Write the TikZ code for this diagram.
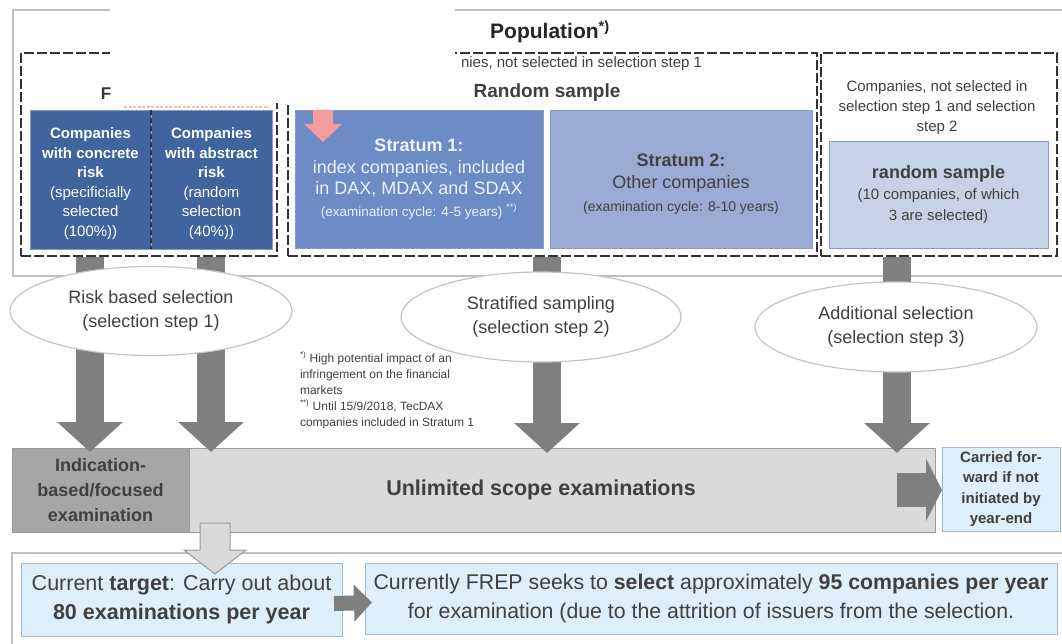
\documentclass[tikz,border=0pt]{standalone}
\usepackage{fontspec}
\setmainfont{Liberation Sans}
\usetikzlibrary{arrows.meta,calc,shapes.geometric}
\definecolor{txt}{HTML}{404040}
\definecolor{dashc}{HTML}{333333}
\definecolor{framec}{HTML}{BFBFBF}
\definecolor{darkblue}{HTML}{40649D}
\definecolor{midblue}{HTML}{6D8BC5}
\definecolor{lblue}{HTML}{9AACD3}
\definecolor{llblue}{HTML}{C6D2E8}
\definecolor{bborder}{HTML}{8A9CBE}
\definecolor{arrgray}{HTML}{7F7F7F}
\definecolor{indgray}{HTML}{A6A6A6}
\definecolor{unlgray}{HTML}{DADADA}
\definecolor{boxgray}{HTML}{9A9A9A}
\definecolor{skyfill}{HTML}{DCEFFB}
\definecolor{skyborder}{HTML}{A3B6CA}
\definecolor{ellborder}{HTML}{C4C4C4}
\definecolor{pinkc}{HTML}{F59C9C}
\definecolor{s1text}{HTML}{EEF2FA}
\newcommand\fsz[2]{\fontsize{#1}{#2}\selectfont}
\begin{document}
\begin{tikzpicture}[x=1pt,y=-1pt,
  every node/.style={inner sep=0pt, outer sep=0pt, text=txt},
  boxnw/.style={rectangle, anchor=north west},
  dashbox/.style={boxnw, draw=dashc, line width=1.6pt, dash pattern=on 10pt off 3pt},
  bluebox/.style={boxnw, draw=bborder, line width=0.8pt, align=center},
  skybox/.style={boxnw, fill=skyfill, draw=skyborder, line width=1pt, align=center},
  ell/.style={ellipse, draw=ellborder, fill=white, line width=1.2pt, align=center, font=\fsz{18}{24}},
  darr/.style={draw=arrgray, line width=28pt, -{Triangle[width=64pt,length=30pt]}},
  lbl/.style={align=center}
]
\useasboundingbox[fill=white] (0,0) rectangle (1062,644);

% population frame
\draw[framec, line width=2pt] (1062,10) -- (13,10) -- (13,276) -- (1062,276);
\node[lbl, font=\bfseries\fsz{21}{25}, text=black!85] (pop) at (550,32) {Population\textsuperscript{*)}};

% dashed group boxes
\node[dashbox, minimum width=256pt, minimum height=203pt] (riskd) at (21,53) {};
\node[dashbox, minimum width=529pt, minimum height=203pt] (randd) at (288,53) {};
\node[dashbox, minimum width=236pt, minimum height=203pt] (addd) at (821,53) {};

\node[lbl, font=\bfseries\fsz{19}{23}] (randtitle) at (547,93) {Random sample};
\node[lbl, font=\fsz{15}{20}, align=center] (addtext) at (937,108) {Companies, not selected in\\selection step 1 and selection\\step 2};

% blue boxes
\node[bluebox, fill=darkblue, minimum width=121pt, minimum height=139pt] (conc) at (30,110) {};
\node[lbl, text=white, font=\fsz{15}{19.5}] (conctext) at ($(conc.center)+(0,4)$)
  {\textbf{Companies}\\\textbf{with concrete}\\\textbf{risk}\\(specificially\\selected\\(100\%))};
\node[bluebox, fill=darkblue, minimum width=121pt, minimum height=139pt] (abst) at (151,110) {};
\node[lbl, text=white, font=\fsz{15}{19.5}] (absttext) at ($(abst.center)+(0,4)$)
  {\textbf{Companies}\\\textbf{with abstract}\\\textbf{risk}\\(random\\selection\\(40\%))};
\draw[dashc, line width=1.2pt, dash pattern=on 5pt off 3pt] (conc.north east) -- (conc.south east);

\node[bluebox, fill=midblue, minimum width=248pt, minimum height=138pt, text=s1text, font=\fsz{18}{21.5}] (s1) at (295,110)
  {\textbf{Stratum 1:}\\index companies, included\\in DAX, MDAX and SDAX\\{\fsz{13.5}{21.5}(examination cycle: 4-5 years) \textsuperscript{**)}}};
\node[bluebox, fill=lblue, minimum width=262pt, minimum height=138pt] (s2) at (550,110) {};
\node[lbl, font=\fsz{18}{22.5}] (s2text) at ($(s2.center)+(0,5)$)
  {\textbf{Stratum 2:}\\Other companies\\{\fsz{14}{22.5}(examination cycle: 8-10 years)}};
\node[bluebox, fill=llblue, minimum width=219pt, minimum height=107pt, font=\fsz{15}{21}] (rs) at (829,141)
  {{\fsz{18}{21}\textbf{random sample}}\\(10 companies, of which\\3 are selected)};

% pink remnants
\fill[pinkc] (313,110) -- (333,110) -- (333,124) -- (342,124) -- (323,142) -- (304,124) -- (313,124) -- cycle;

% bottom boxes
\node[boxnw, fill=indgray, draw=boxgray, line width=1pt, minimum width=177pt, minimum height=84pt, align=center, font=\bfseries\fsz{18}{25}] (ind) at (12,448)
  {Indication-\\based/focused\\examination};
\node[boxnw, fill=unlgray, draw=boxgray, line width=1pt, minimum width=746pt, minimum height=84pt, font=\bfseries\fsz{21.5}{26}] (unl) at (189,448)
  {\hspace*{-42pt}Unlimited scope examinations};
\node[skybox, minimum width=118pt, minimum height=84pt, font=\bfseries\fsz{15}{20.5}] (carr) at (942,447)
  {Carried for-\\ward if not\\initiated by\\year-end};

\draw[framec, line width=2pt] (1062,553) -- (12,553) -- (12,644);
\node[skybox, minimum width=321pt, minimum height=73pt, font=\fsz{21.5}{29}] (target) at (21,563)
  {Current \textbf{target}: Carry out about\\\textbf{80 examinations per year}};
\node[skybox, minimum width=692pt, minimum height=71pt, font=\fsz{21.3}{29}] (frep) at (365,563)
  {Currently FREP seeks to \textbf{select} approximately \textbf{95 companies per year}\\for examination (due to the attrition of issuers from the selection.};

% footnotes
\node[anchor=north west, align=left, font=\fsz{12}{16}] (foot) at (300,352)
  {\textsuperscript{*)} High potential impact of an\\infringement on the financial\\markets\\\textsuperscript{**)} Until 15/9/2018, TecDAX\\companies included in Stratum 1};

% dark block arrows
\coordinate (a1) at (90,257);
\coordinate (a2) at (211,257);
\coordinate (a3) at (547,257);
\coordinate (a4) at (897,257);
\draw[darr] (a1) -- ($(a1 |- ind.north)+(0,4)$);
\draw[darr] (a2) -- ($(a2 |- unl.north)+(0,4)$);
\draw[darr] (a3) -- ($(a3 |- unl.north)+(0,5)$);
\draw[darr] (a4) -- ($(a4 |- unl.north)+(0,5)$);
\coordinate (a5) at (897,490);
\draw[draw=arrgray, line width=34pt, -{Triangle[width=62pt,length=16pt]}] (a5) -- (a5 -| carr.west);
\draw[draw=arrgray, line width=15pt, -{Triangle[width=36pt,length=18pt]}] ($(target.east)+(-8,4)$) -- ($(frep.west)+(7,4)$);

% light hollow arrow
\coordinate (la) at (215,523);
\filldraw[fill=unlgray, draw=boxgray, line width=1pt] ($(la)+(-15,0)$) -- ($(la)+(15,0)$) -- ($(la)+(15,27)$) -- ($(la)+(31,27)$) -- ($(la)+(0,51)$) -- ($(la)+(-31,27)$) -- ($(la)+(-15,27)$) -- cycle;

% ellipses
\node[ell, minimum width=282pt, minimum height=89pt] (e1) at (151,311) {Risk based selection\\(selection step 1)};
\node[ell, minimum width=280pt, minimum height=90pt] (e2) at (541,317) {Stratified sampling\\(selection step 2)};
\node[ell, minimum width=282pt, minimum height=90pt] (e3) at (896,327) {Additional selection\\(selection step 3)};

% white cover over top-left area
\fill[white] (110,0) rectangle (455,103);
\draw[pinkc!70, line width=1.5pt, dash pattern=on 3pt off 1.5pt] (124,107) -- (269,107);
\node[lbl, font=\bfseries\fsz{17}{20}, text=black!80] (ftext) at (106,94) {F};
\node[anchor=west, font=\fsz{15}{18}] (nies) at (461,64) {nies, not selected in selection step 1};
\end{tikzpicture}
\end{document}
